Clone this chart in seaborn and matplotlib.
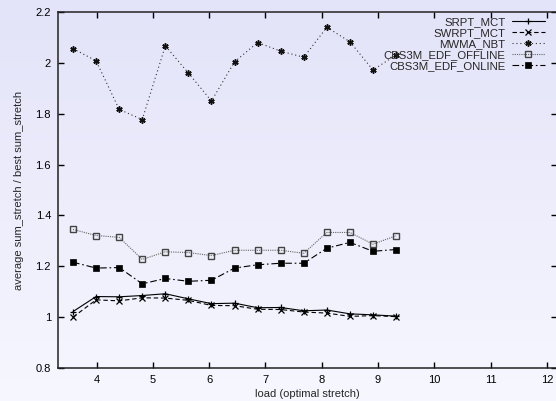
import numpy as np
import matplotlib
matplotlib.use("Agg")
import matplotlib.pyplot as plt
import seaborn as sns
from matplotlib.colors import LinearSegmentedColormap

load = [3.58, 3.99, 4.40, 4.81, 5.22, 5.63, 6.04, 6.45, 6.86, 7.27, 7.68, 8.09, 8.50, 8.91, 9.32]
srpt_mct = [1.022, 1.081, 1.080, 1.085, 1.092, 1.072, 1.053, 1.055, 1.037, 1.038, 1.025, 1.028, 1.013, 1.009, 1.004]
swrpt_mct = [1.000, 1.068, 1.064, 1.076, 1.075, 1.066, 1.046, 1.045, 1.031, 1.030, 1.020, 1.016, 1.003, 1.006, 1.002]
mwma_nbt = [2.056, 2.008, 1.817, 1.777, 2.067, 1.960, 1.850, 2.004, 2.080, 2.046, 2.022, 2.140, 2.083, 1.972, 2.031]
cbs3m_offline = [1.345, 1.321, 1.314, 1.227, 1.257, 1.254, 1.242, 1.263, 1.263, 1.263, 1.251, 1.333, 1.333, 1.287, 1.320]
cbs3m_online = [1.216, 1.193, 1.195, 1.131, 1.152, 1.141, 1.145, 1.193, 1.206, 1.212, 1.212, 1.271, 1.294, 1.259, 1.266]

series_names = ["SRPT_MCT", "SWRPT_MCT", "MWMA_NBT", "CBS3M_EDF_OFFLINE", "CBS3M_EDF_ONLINE"]
xticks = [4, 5, 6, 7, 8, 9, 10, 11, 12]
yticks = [0.8, 1, 1.2, 1.4, 1.6, 1.8, 2, 2.2]

sns.set_style("ticks")
plt.rcParams['font.family'] = ['Liberation Sans', 'DejaVu Sans']

fig = plt.figure(figsize=(5.56, 4.01), dpi=100)

# background gradient
bg = fig.add_axes([0, 0, 1, 1], zorder=-10)
grad = np.linspace(0, 1, 256).reshape(-1, 1)
cmap = LinearSegmentedColormap.from_list("bg", ["#e3e3f9", "#f7f7ff"])
bg.imshow(grad, aspect="auto", cmap=cmap, extent=[0, 1, 0, 1], origin="upper")
bg.axis("off")

left = 58 / 556
right = 557 / 556
bottom = 1 - 368 / 401
top = 1 - 12 / 401
ax = fig.add_axes([left, bottom, right - left, top - bottom])
ax.patch.set_alpha(0)

styles = [
    dict(color="black", linestyle="-", marker="+", markersize=5, markeredgewidth=0.9,
         markeredgecolor="black"),
    dict(color="black", linestyle=(0, (4, 2.5)), marker="x", markersize=4, markeredgewidth=0.9,
         markeredgecolor="black"),
    dict(color="#333333", linestyle=(0, (1, 2.5)), marker=(6, 2, 0), markersize=4.5,
         markeredgewidth=1.1, markeredgecolor="#111111"),
    dict(color="#666666", linestyle=(0, (1, 1)), marker="s", markersize=4, markerfacecolor="none",
         markeredgecolor="#444444", markeredgewidth=1.0),
    dict(color="black", linestyle=(0, (6, 2.5, 1.5, 2.5)), marker="s", markersize=4.5,
         markeredgewidth=0.5, markeredgecolor="black"),
]
data = [srpt_mct, swrpt_mct, mwma_nbt, cbs3m_offline, cbs3m_online]

for name, ys, st in zip(series_names, data, styles):
    sns.lineplot(x=load, y=ys, ax=ax, label=name, linewidth=0.8, **st)

ax.set_xlim(3.313, 12.18)
ax.set_ylim(0.8, 2.2)
ax.set_xticks(xticks)
ax.set_xticklabels([str(t) for t in xticks])
ax.set_yticks(yticks)
ax.set_yticklabels(["0.8", "1", "1.2", "1.4", "1.6", "1.8", "2", "2.2"])
ax.tick_params(direction="in", length=4, width=1, labelsize=8, top=True, right=True,
               colors="black", pad=5)
for s in ax.spines.values():
    s.set_linewidth(1.1)
    s.set_color("#222222")
    s.set_visible(True)

ax.set_xlabel("load (optimal stretch)", fontsize=8, labelpad=3)
ax.set_ylabel("average sum_stretch / best sum_stretch", fontsize=8, labelpad=8)

leg = ax.legend(loc="upper right", bbox_to_anchor=(545 / 556, 1 - 17 / 401),
                bbox_transform=fig.transFigure, frameon=False, markerfirst=False,
                fontsize=8.2, handlelength=2.9, handletextpad=0.55, labelspacing=0.08,
                borderaxespad=0, borderpad=0)
leg.set_zorder(5)

fig.savefig("out.png", dpi=100)
